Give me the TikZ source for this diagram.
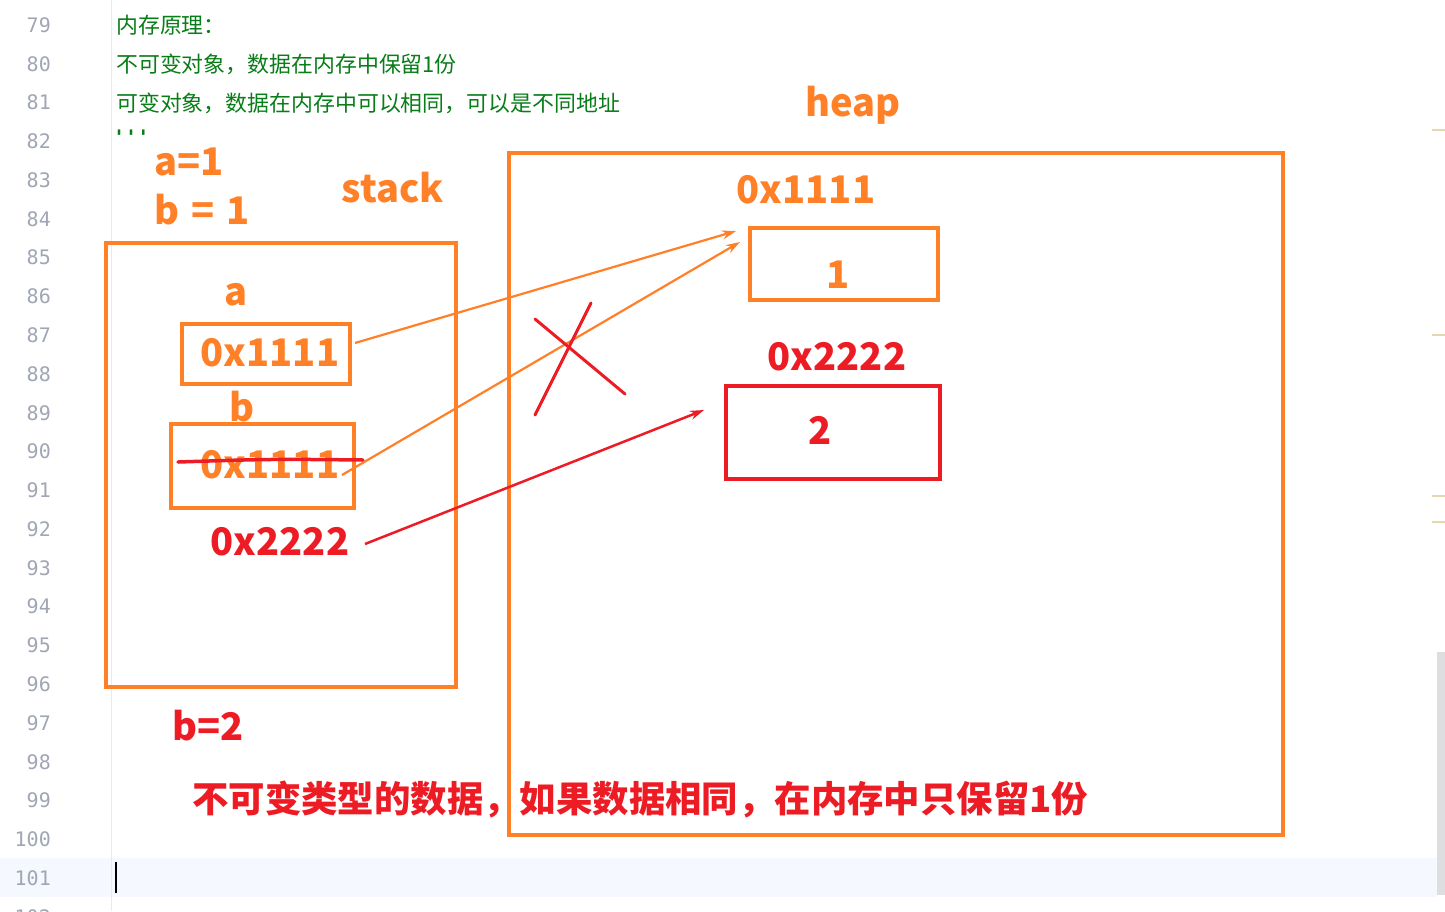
\documentclass[tikz,border=0pt]{standalone}
\usepackage{fontspec}
\usetikzlibrary{arrows.meta}
\newfontfamily\cjk{Noto Sans CJK SC}
\newfontfamily\monofnt{DejaVu Sans Mono}
\definecolor{org}{RGB}{255,128,39}
\definecolor{rd}{RGB}{237,28,36}
\definecolor{grn}{RGB}{8,125,24}
\definecolor{lnc}{RGB}{160,166,180}
\definecolor{curl}{RGB}{245,248,254}
\definecolor{gut}{RGB}{232,234,238}
\definecolor{smark}{RGB}{226,216,178}
\definecolor{sbar}{RGB}{222,222,224}
\begin{document}
\begin{tikzpicture}[x=1pt,y=-1pt,
  lnum/.style={anchor=east,inner sep=0pt,text=lnc,font=\monofnt\fontsize{20}{20}\selectfont},
  code/.style={anchor=west,inner sep=0pt,text=grn,font=\cjk\fontsize{21.9}{22}\selectfont},
  lbl/.style={inner sep=0pt,font=\cjk\bfseries\fontsize{38}{38}\selectfont},
  olbl/.style={lbl,text=org},
  rlbl/.style={lbl,text=rd},
  obox/.style={draw=org,line width=3.5pt},
  rbox/.style={draw=rd,line width=3.5pt},
  oarr/.style={draw=org,line width=2.2pt,-{Stealth[length=14pt,width=9pt]}},
  rarr/.style={draw=rd,line width=2.5pt,-{Stealth[length=14pt,width=9pt]}},
  redstroke/.style={draw=rd,line width=3.5pt,line cap=round}]
\useasboundingbox (0,0) rectangle (1445,911);
\fill[white] (0,0) rectangle (1445,911);
% editor background
\fill[curl] (0,858) rectangle (1437,897);
\draw[gut,line width=1pt] (111,0) -- (111,911);
\foreach \n [count=\i from 0] in {79,80,...,102}
  \node[lnum] (ln\n) at (51,{25+38.78*\i}) {\n};
\draw[black,line width=1.2pt] (116,862) -- (116,893);
% scrollbar markers
\foreach \yy in {130,335,496,522}
  \draw[smark,line width=2.5pt] (1432,\yy) -- (1445,\yy);
\fill[sbar] (1437,652) rectangle (1445,895);
% code text
\node[code] (c79) at (116,25) {内存原理：};
\node[code] (c80) at (116,64) {不可变对象，数据在内存中保留1份};
\node[code] (c81) at (116,103) {可变对象，数据在内存中可以相同，可以是不同地址};
\node[code,font=\monofnt\bfseries\fontsize{20}{20}\selectfont] (c82) at (113,137) {'''};
% labels
\node[olbl,anchor=west] (a1) at (154,162) {a=1};
\node[olbl,anchor=west] (b1) at (154,210) {b\hspace{12pt}=\hspace{12pt}1};
\node[olbl] (stack) at (393,188) {stack};
\node[olbl] (heap) at (853,105) {heap};
% stack box
\draw[obox] (106,243) rectangle (456,687);
\node[olbl] (la) at (236,295) {a};
\draw[obox] (182,324) rectangle (350,384);
\node[olbl] (va) at (270,353) {0x1111};
\node[olbl] (lb) at (242,407) {b};
\draw[obox] (171,424) rectangle (354,508);
\node[olbl] (vb) at (270,465) {0x1111};
\draw[redstroke] (178,462) .. controls (270,459) .. (363,460);
\node[rlbl] (vb2) at (280,542) {0x2222};
\node[rlbl] (b2) at (208,726) {b=2};
% heap box
\draw[obox] (509,153) rectangle (1283,835);
\node[olbl] (h1) at (806,190) {0x1111};
\draw[obox] (750,228) rectangle (938,300);
\node[olbl] (one) at (838,275) {1};
\node[rlbl] (h2) at (837,357) {0x2222};
\draw[rbox] (726,386) rectangle (940,479);
\node[rlbl] (two) at (820,430) {2};
% connectors
\coordinate (sa) at (355,343);
\coordinate (ta) at (736,231);
\coordinate (sb) at (342,475);
\coordinate (tb) at (740,242);
\coordinate (sc) at (365,544);
\coordinate (tc) at (704,410);
\draw[oarr] (sa) -- (ta);
\draw[oarr] (sb) -- (tb);
\draw[rarr] (sc) -- (tc);
% X mark
\coordinate (x1) at (535,415); \coordinate (x2) at (591,303);
\coordinate (x3) at (535,319); \coordinate (x4) at (625,394);
\draw[redstroke,line width=3pt] (x1) -- (x2);
\draw[redstroke,line width=3pt] (x3) -- (x4);
% bottom note
\node[rlbl,anchor=west,font=\cjk\bfseries\fontsize{36.4}{37}\selectfont] (note) at (192,800) {不可变类型的数据，如果数据相同，在内存中只保留1份};
\end{tikzpicture}
\end{document}
